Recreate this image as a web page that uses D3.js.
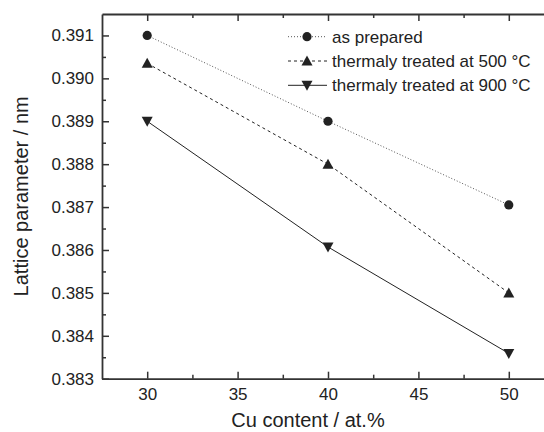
<!DOCTYPE html>
<html>
<head>
<meta charset="utf-8">
<script src="https://cdn.jsdelivr.net/npm/d3@7"></script>
<style>
  html, body { margin: 0; padding: 0; background: #fff; }
  svg { display: block; }
  text { font-family: "Liberation Sans", Arial, sans-serif; fill: #222; }
</style>
</head>
<body>
<svg id="chart" width="544" height="432"></svg>
<script>
// Cu content (at.%)
const cuContent = [30, 40, 50];
// Lattice parameter (nm) per sample treatment
const asPrepared = [0.391, 0.389, 0.38705];
const treated500 = [0.39035, 0.388, 0.385];
const treated900 = [0.389, 0.38607, 0.38359];
const seriesNames = ["as prepared", "thermaly treated at 500 °C", "thermaly treated at 900 °C"];
const xTicks = [30, 35, 40, 45, 50];
const yTicks = [0.383, 0.384, 0.385, 0.386, 0.387, 0.388, 0.389, 0.390, 0.391];

const svg = d3.select("#chart");
const ink = "#222";

const x = d3.scaleLinear().domain([27.5, 52.5]).range([102, 554]);
const y = d3.scaleLinear().domain([0.383, 0.3915]).range([378.7, 14]);

const series = [
  { name: seriesNames[0], values: asPrepared, dash: "1,2", width: 1, color: "#555", marker: "circle" },
  { name: seriesNames[1], values: treated500, dash: "3,3", width: 1, color: "#222", marker: "up" },
  { name: seriesNames[2], values: treated900, dash: null, width: 1, color: "#222", marker: "down" }
];

function drawMarker(g, type, cx, cy) {
  if (type === "circle") {
    g.append("circle").attr("cx", cx).attr("cy", cy).attr("r", 4.6).attr("fill", ink);
  } else if (type === "up") {
    g.append("path")
      .attr("d", `M${cx},${cy - 5.5}L${cx + 5.5},${cy + 4.5}L${cx - 5.5},${cy + 4.5}Z`)
      .attr("fill", ink);
  } else {
    g.append("path")
      .attr("d", `M${cx},${cy + 5.5}L${cx + 5.5},${cy - 4.5}L${cx - 5.5},${cy - 4.5}Z`)
      .attr("fill", ink);
  }
}

// Lines and markers
const line = d3.line().x(d => x(d[0])).y(d => y(d[1]));
series.forEach(s => {
  const pts = cuContent.map((c, i) => [c, s.values[i]]);
  svg.append("path")
    .datum(pts)
    .attr("d", line)
    .attr("fill", "none")
    .attr("stroke", s.color)
    .attr("stroke-width", s.width)
    .attr("stroke-dasharray", s.dash);
  const g = svg.append("g");
  pts.forEach(p => drawMarker(g, s.marker, x(p[0]), y(p[1])));
});

// Axes with inward ticks
const minorX = d3.range(32.5, 52.5, 5);
const minorY = d3.range(0.3835, 0.3914, 0.001);

function styleAxis(g) {
  g.selectAll(".domain").attr("stroke", "#333").attr("stroke-width", 1.8);
  g.selectAll(".tick line").attr("stroke", "#333").attr("stroke-width", 1.5);
  g.selectAll(".tick text").style("font-size", "17px").attr("fill", "#222")
    .style("font-family", '"Liberation Sans", Arial, sans-serif');
}

const axisBottomG = svg.append("g").attr("transform", `translate(0,${y.range()[0]})`)
  .call(d3.axisBottom(x).tickValues(xTicks).tickSizeInner(-7).tickSizeOuter(0).tickPadding(9).tickFormat(d3.format("d")));
styleAxis(axisBottomG);
const axisBottomMinor = svg.append("g").attr("transform", `translate(0,${y.range()[0]})`)
  .call(d3.axisBottom(x).tickValues(minorX).tickSizeInner(-4).tickSizeOuter(0).tickFormat(""));
styleAxis(axisBottomMinor);
axisBottomMinor.select(".domain").remove();

const axisTopG = svg.append("g").attr("transform", `translate(0,${y.range()[1]})`)
  .call(d3.axisTop(x).tickValues(xTicks).tickSizeInner(-7).tickSizeOuter(0).tickFormat(""));
styleAxis(axisTopG);
const axisTopMinor = svg.append("g").attr("transform", `translate(0,${y.range()[1]})`)
  .call(d3.axisTop(x).tickValues(minorX).tickSizeInner(-4).tickSizeOuter(0).tickFormat(""));
styleAxis(axisTopMinor);
axisTopMinor.select(".domain").remove();

const axisLeftG = svg.append("g").attr("transform", `translate(${x.range()[0]},0)`)
  .call(d3.axisLeft(y).tickValues(yTicks).tickSizeInner(-7).tickSizeOuter(0).tickPadding(8).tickFormat(d3.format(".3f")));
styleAxis(axisLeftG);
const axisLeftMinor = svg.append("g").attr("transform", `translate(${x.range()[0]},0)`)
  .call(d3.axisLeft(y).tickValues(minorY).tickSizeInner(-4).tickSizeOuter(0).tickFormat(""));
styleAxis(axisLeftMinor);
axisLeftMinor.select(".domain").remove();

// Axis titles
svg.append("text")
  .attr("x", (x(30) + x(50)) / 2 - 20)
  .attr("y", 427)
  .attr("text-anchor", "middle")
  .style("font-size", "20px")
  .text("Cu content / at.%");

svg.append("text")
  .attr("transform", `translate(27.5,${(y.range()[0] + y.range()[1]) / 2}) rotate(-90)`)
  .attr("text-anchor", "middle")
  .style("font-size", "20px")
  .text("Lattice parameter / nm");

// Legend
const legend = svg.append("g");
series.forEach((s, i) => {
  const cy = 36.7 + i * 24.3;
  legend.append("line")
    .attr("x1", 288).attr("x2", 327).attr("y1", cy).attr("y2", cy)
    .attr("stroke", s.color).attr("stroke-width", s.width)
    .attr("stroke-dasharray", s.dash);
  drawMarker(legend, s.marker, 307, cy);
  legend.append("text")
    .attr("x", 332).attr("y", cy).attr("dy", "0.35em")
    .style("font-size", "17px")
    .text(s.name);
});
</script>
</body>
</html>
